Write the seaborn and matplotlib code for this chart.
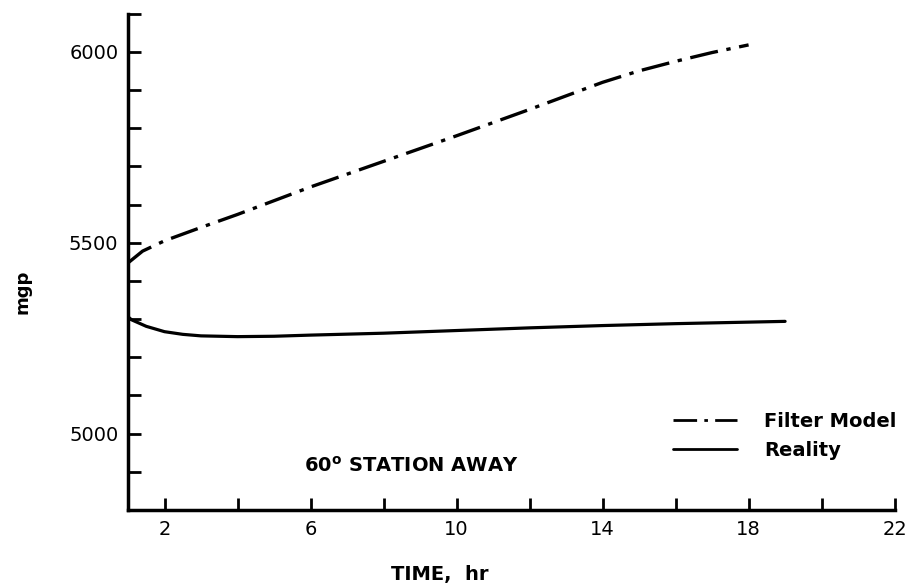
import matplotlib
matplotlib.use("Agg")
import matplotlib.pyplot as plt
import seaborn as sns
import pandas as pd
from matplotlib.ticker import MultipleLocator, FixedLocator

# ---- data ----
filter_time = [1.0, 1.4, 2.0, 3.0, 4.0, 6.0, 8.0, 10.0, 12.0, 14.0, 15.0, 16.0, 17.0, 18.0]
filter_mgp = [5447, 5478, 5505, 5540, 5574, 5646, 5713, 5780, 5849, 5920, 5950, 5975, 5998, 6018]

reality_time = [1.0, 1.1, 1.5, 2.0, 2.5, 3.0, 4.0, 5.0, 6.0, 8.0, 10.0, 12.0, 14.0, 16.0, 18.0, 19.0]
reality_mgp = [5306, 5298, 5281, 5267, 5260, 5256, 5254, 5255, 5258, 5263, 5270, 5277, 5283, 5288, 5292, 5294]

x_major = [2, 6, 10, 14, 18, 22]
y_major = [5000, 5500, 6000]
annotation = "60$^{\\mathbf{o}}$ STATION AWAY"

sns.set_theme(style="ticks")
plt.rcParams['font.family'] = ['DejaVu Sans']
plt.rcParams.update({"text.color": "black", "axes.labelcolor": "black",
                     "xtick.color": "black", "ytick.color": "black"})

df_f = pd.DataFrame({"time": filter_time, "mgp": filter_mgp})
df_r = pd.DataFrame({"time": reality_time, "mgp": reality_mgp})

fig = plt.figure(figsize=(9.11, 5.86), dpi=100)
ax = fig.add_axes([0.1405, 0.1297, 0.8415, 0.8471])

sns.lineplot(data=df_f, x="time", y="mgp", ax=ax, color="black", linewidth=2.4,
             label="Filter Model", estimator=None, sort=False)
sns.lineplot(data=df_r, x="time", y="mgp", ax=ax, color="black", linewidth=2.3,
             label="Reality", estimator=None, sort=False)
ax.lines[0].set_dashes((8.5, 2.6, 1.3, 2.6))

ax.set_xlim(1, 22)
ax.set_ylim(4800, 6100)
ax.xaxis.set_major_locator(FixedLocator(x_major))
ax.xaxis.set_minor_locator(MultipleLocator(2))
ax.yaxis.set_major_locator(FixedLocator(y_major))
ax.yaxis.set_minor_locator(MultipleLocator(100))
ax.tick_params(which="both", direction="in", width=2, color="black", labelsize=14, pad=7)
ax.tick_params(which="major", length=9)
ax.tick_params(which="minor", length=9)

for s in ["top", "right"]:
    ax.spines[s].set_visible(False)
for s in ["left", "bottom"]:
    ax.spines[s].set_linewidth(2.5)
    ax.spines[s].set_color("black")

ax.set_xlabel("TIME,  hr", fontsize=14, fontweight="bold")
ax.set_ylabel("mgp", fontsize=13, fontweight="bold")
ax.xaxis.set_label_coords(0.407, -0.11)
ax.yaxis.set_label_coords(-0.126, 0.44)

ax.text(8.75, 4915, annotation, fontsize=14, ha="center", va="center", fontweight="semibold")

leg = ax.legend(loc="lower right", bbox_to_anchor=(1.025, 0.065), frameon=False,
                handlelength=3.3, handletextpad=1.4, labelspacing=0.55,
                prop={"weight": "bold", "size": 14})
for h in leg.get_lines():
    h.set_linewidth(2.0)

fig.savefig("out.png", dpi=100, facecolor="white")
